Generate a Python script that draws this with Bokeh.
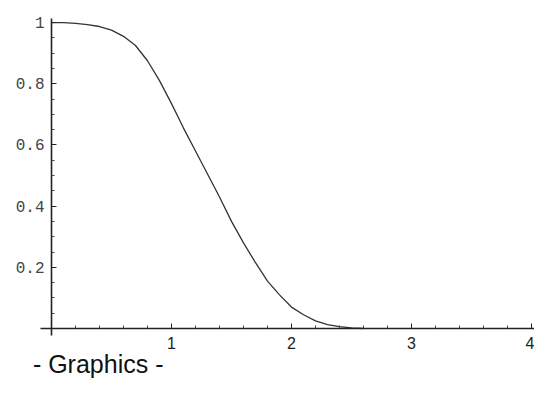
from bokeh.plotting import figure
from bokeh.models import Range1d, FixedTicker, Label
from bokeh.embed import file_html
from bokeh.resources import INLINE

# curve values
x_vals = [0.0, 0.1, 0.2, 0.3, 0.4, 0.5, 0.6, 0.7, 0.8, 0.9, 1.0, 1.1, 1.2, 1.3,
          1.4, 1.5, 1.6, 1.7, 1.8, 1.9, 2.0, 2.1, 2.2, 2.3, 2.4, 2.5, 2.6]
y_vals = [1.0, 1.0, 0.997, 0.993, 0.987, 0.975, 0.955, 0.925, 0.875, 0.81, 0.735,
          0.655, 0.58, 0.505, 0.43, 0.35, 0.28, 0.215, 0.155, 0.11, 0.07, 0.045,
          0.025, 0.013, 0.006, 0.002, 0.0]

x_ticks = [1, 2, 3, 4]
x_minor = [0.2, 0.4, 0.6, 0.8, 1.2, 1.4, 1.6, 1.8, 2.2, 2.4, 2.6, 2.8,
           3.2, 3.4, 3.6, 3.8]
y_ticks = [0.2, 0.4, 0.6, 0.8, 1.0]
y_labels = {0.2: "0.2", 0.4: "0.4", 0.6: "0.6", 0.8: "0.8", 1.0: "1"}
y_minor = [0.05, 0.1, 0.15, 0.25, 0.3, 0.35, 0.45, 0.5, 0.55, 0.65, 0.7, 0.75,
           0.85, 0.9, 0.95]
caption = "- Graphics -"

p = figure(width=534, height=379, output_backend="svg", toolbar_location=None,
           x_range=Range1d(-0.425, 4.025), y_range=Range1d(-0.1667, 1.072),
           min_border=0)
p.outline_line_color = None
p.grid.visible = False
p.background_fill_color = "white"
p.border_fill_color = "white"

p.line(x_vals, y_vals, line_color="#333333", line_width=1.3)

xa = p.xaxis[0]
xa.fixed_location = 0
xa.bounds = (-0.09, 4.025)
xa.ticker = FixedTicker(ticks=x_ticks, minor_ticks=x_minor)
xa.axis_line_color = "#222222"
xa.axis_line_width = 1.6
xa.major_tick_in = 5
xa.major_tick_out = 0
xa.minor_tick_in = 3
xa.minor_tick_out = 0
xa.major_tick_line_color = "#222222"
xa.minor_tick_line_color = "#444444"
xa.major_label_text_font = "Liberation Sans"
xa.major_label_text_font_size = "16px"
xa.major_label_text_color = "#222222"
xa.major_label_standoff = 9

ya = p.yaxis[0]
ya.fixed_location = 0
ya.bounds = (-0.023, 1.013)
ya.ticker = FixedTicker(ticks=y_ticks, minor_ticks=y_minor)
ya.major_label_overrides = y_labels
ya.axis_line_color = "#222222"
ya.axis_line_width = 1.6
ya.major_tick_in = 5
ya.major_tick_out = 0
ya.minor_tick_in = 3
ya.minor_tick_out = 0
ya.major_tick_line_color = "#222222"
ya.minor_tick_line_color = "#444444"
ya.major_label_text_font = "Liberation Mono"
ya.major_label_text_font_size = "16px"
ya.major_label_text_color = "#444444"
ya.major_label_standoff = 7

p.add_layout(Label(x=-0.155, y=-0.1176, text=caption, text_font="Liberation Sans",
                   text_font_size="25px", text_color="#111111",
                   text_baseline="middle"))

open("out.html", "w").write(file_html(p, INLINE))
